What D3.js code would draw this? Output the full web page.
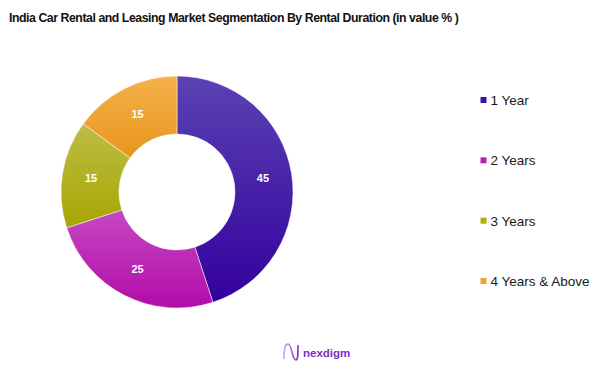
<!DOCTYPE html>
<html><head><meta charset="utf-8">
<script src="https://cdn.jsdelivr.net/npm/d3@7"></script>
<style>body{margin:0;background:#fff}svg{display:block}</style>
</head><body>
<script>
const categories = ["1 Year", "2 Years", "3 Years", "4 Years & Above"];
const values = [45, 25, 15, 15];
const topColors = ["#5b42b2", "#c548c2", "#bdbd48", "#f5b14e"];
const bottomColors = ["#33009e", "#b20ca8", "#a6a600", "#e8961a"];
const legendColors = ["#3a10a8", "#c21ab8", "#afaf10", "#f0a430"];
const title = "India Car Rental and Leasing Market Segmentation By Rental Duration (in value % )";

const W = 602, H = 369;
const svg = d3.select("body").append("svg").attr("width", W).attr("height", H);
const defs = svg.append("defs");
categories.forEach((c, i) => {
  const g = defs.append("linearGradient").attr("id", "g" + i)
    .attr("x1", 0).attr("y1", 0).attr("x2", 0).attr("y2", 1);
  g.append("stop").attr("offset", "0%").attr("stop-color", topColors[i]);
  g.append("stop").attr("offset", "100%").attr("stop-color", bottomColors[i]);
});

svg.append("text").attr("x", 9).attr("y", 22)
  .attr("font-family", "Liberation Sans, Arial, sans-serif")
  .attr("font-weight", "bold").attr("font-size", 12.3)
  .attr("letter-spacing", -0.45)
  .attr("fill", "#111").text(title);

const cx = 177, cy = 192, R = 116, r = 58;
const pie = d3.pie().sort(null).value(d => d)(values);
const arc = d3.arc().outerRadius(R).innerRadius(r);
const labelArc = d3.arc().outerRadius((R + r) / 2).innerRadius((R + r) / 2);
const g = svg.append("g").attr("transform", `translate(${cx},${cy})`);
g.selectAll("path").data(pie).join("path")
  .attr("d", arc).attr("fill", (d, i) => `url(#g${i})`)
  .attr("stroke", "#fff").attr("stroke-width", 0.5);
g.selectAll("text").data(pie).join("text")
  .attr("transform", d => `translate(${labelArc.centroid(d)})`)
  .attr("text-anchor", "middle").attr("dy", "0.35em")
  .attr("font-family", "Liberation Sans, Arial, sans-serif")
  .attr("font-weight", "bold").attr("font-size", 11)
  .attr("fill", "#fff").text(d => d.data);

const ly = d3.scalePoint().domain(categories).range([100, 281]);
const lg = svg.append("g");
categories.forEach((c, i) => {
  lg.append("rect").attr("x", 480.5).attr("y", ly(c) - 3).attr("width", 6).attr("height", 6)
    .attr("fill", legendColors[i]);
  lg.append("text").attr("x", 490.5).attr("y", ly(c)).attr("dy", "0.36em")
    .attr("font-family", "Liberation Sans, Arial, sans-serif")
    .attr("font-size", 13.5).attr("fill", "#1a1a1a").text(c);
});

// logo
const lgrad = defs.append("linearGradient").attr("id", "logo").attr("x1", 0).attr("x2", 1);
lgrad.append("stop").attr("offset", "0%").attr("stop-color", "#c9a4f0");
lgrad.append("stop").attr("offset", "100%").attr("stop-color", "#7a2fc4");
svg.append("path")
  .attr("d", "M284,359 C284,348 285,344 288,344 C292,344 292,360 296,360 C298,360 298,354 298,345")
  .attr("fill", "none").attr("stroke", "url(#logo)").attr("stroke-width", 1.6);
svg.append("text").attr("x", 303).attr("y", 357)
  .attr("font-family", "Liberation Sans, Arial, sans-serif")
  .attr("font-weight", "bold").attr("font-size", 11.5)
  .attr("fill", "#7b2dc2").text("nexdigm");
</script>
</body></html>
